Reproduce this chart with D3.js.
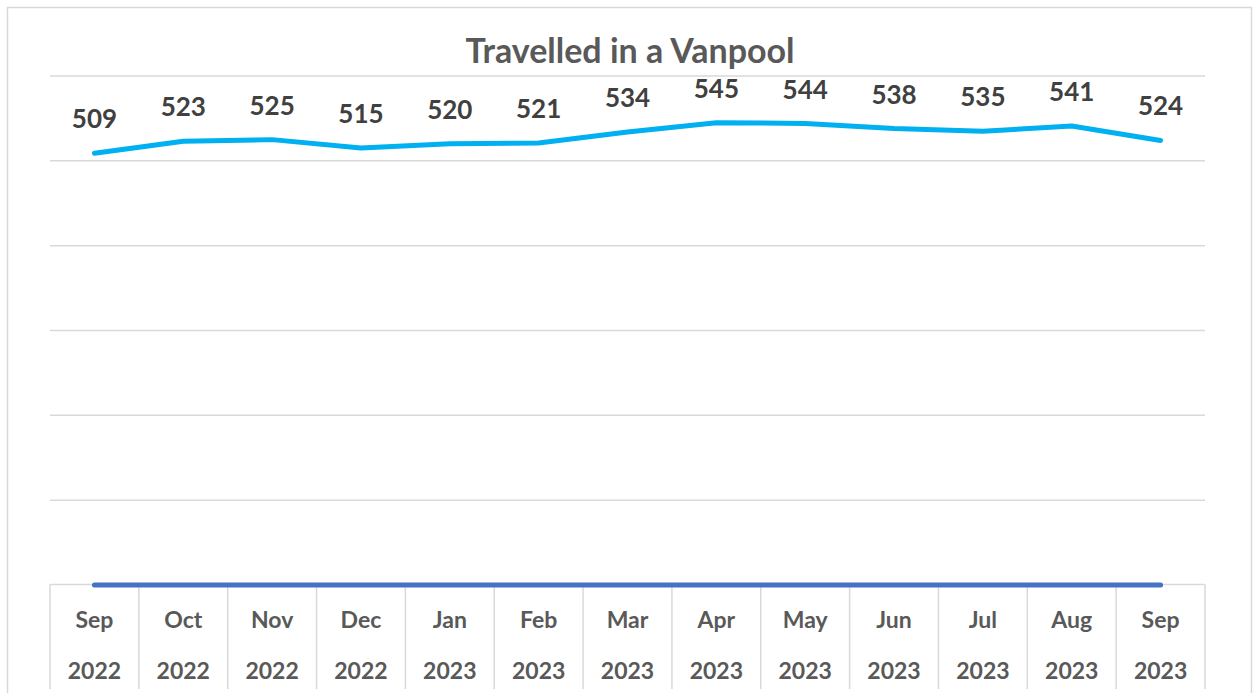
<!DOCTYPE html>
<html>
<head>
<meta charset="utf-8">
<script src="https://cdn.jsdelivr.net/npm/d3@7"></script>
<style>
  html, body { margin: 0; padding: 0; background: #fff; }
  svg { display: block; font-family: Lato, "Open Sans", sans-serif; }
</style>
</head>
<body>
<svg id="chart" width="1253" height="693"></svg>
<script>
// chart data
var months = ['Sep', 'Oct', 'Nov', 'Dec', 'Jan', 'Feb', 'Mar', 'Apr', 'May', 'Jun', 'Jul', 'Aug', 'Sep'];
var years = ['2022', '2022', '2022', '2022', '2023', '2023', '2023', '2023', '2023', '2023', '2023', '2023', '2023'];
var vanpool = [509, 523, 525, 515, 520, 521, 534, 545, 544, 538, 535, 541, 524];
var baseline = [0, 0, 0, 0, 0, 0, 0, 0, 0, 0, 0, 0, 0];
var yTicks = [0, 100, 200, 300, 400, 500, 600];

var svg = d3.select('#chart');
var plotLeft = 50, plotRight = 1205, plotTop = 76, plotBottom = 585;

// outer frame
svg.append('rect')
  .attr('x', 7.5).attr('y', 7.5)
  .attr('width', 1244).attr('height', 700)
  .attr('fill', '#fff')
  .attr('stroke', '#d9d9d9')
  .attr('stroke-width', 1.5);

var idx = d3.range(months.length);
var x = d3.scaleBand().domain(idx).range([plotLeft, plotRight]);
var y = d3.scaleLinear().domain([0, 600]).range([plotBottom, plotTop]);
var cx = function(i) { return x(i) + x.bandwidth() / 2; };

// gridlines
svg.append('g')
  .selectAll('line')
  .data(yTicks.slice(1))
  .enter().append('line')
    .attr('x1', plotLeft).attr('x2', plotRight)
    .attr('y1', function(d) { return y(d); })
    .attr('y2', function(d) { return y(d); })
    .attr('stroke', '#d9d9d9')
    .attr('stroke-width', 1.5);

// category table axis
var axis = svg.append('g');
axis.append('line')
  .attr('x1', plotLeft).attr('x2', plotRight)
  .attr('y1', y(0) - 0.5).attr('y2', y(0) - 0.5)
  .attr('stroke', '#d9d9d9').attr('stroke-width', 1.5);
axis.selectAll('line.div')
  .data(idx.concat([months.length]))
  .enter().append('line')
    .attr('class', 'div')
    .attr('x1', function(i) { return i < months.length ? x(i) : plotRight; })
    .attr('x2', function(i) { return i < months.length ? x(i) : plotRight; })
    .attr('y1', y(0) - 0.5).attr('y2', 689)
    .attr('stroke', '#d9d9d9').attr('stroke-width', 1.5);

var tick = axis.selectAll('g.tick')
  .data(idx)
  .enter().append('g')
    .attr('class', 'tick')
    .attr('transform', function(i) { return 'translate(' + cx(i) + ',0)'; });
tick.append('text')
  .attr('y', 628)
  .attr('text-anchor', 'middle')
  .attr('font-size', 23).attr('font-weight', 'bold')
  .attr('fill', '#595959')
  .text(function(i) { return months[i]; });
tick.append('text')
  .attr('y', 679)
  .attr('text-anchor', 'middle')
  .attr('font-size', 23).attr('font-weight', 'bold')
  .attr('fill', '#595959')
  .text(function(i) { return years[i]; });

// lines
var line = function(values) {
  return d3.line()
    .x(function(d, i) { return cx(i); })
    .y(function(d) { return y(d); })(values);
};
svg.append('path')
  .attr('d', line(baseline))
  .attr('fill', 'none')
  .attr('stroke', '#4472c4')
  .attr('stroke-width', 5)
  .attr('stroke-linecap', 'round');
svg.append('path')
  .attr('d', line(vanpool))
  .attr('fill', 'none')
  .attr('stroke', '#00b0f0')
  .attr('stroke-width', 5)
  .attr('stroke-linecap', 'round')
  .attr('stroke-linejoin', 'round');

// data labels
svg.append('g')
  .selectAll('text')
  .data(vanpool)
  .enter().append('text')
    .attr('x', function(d, i) { return cx(i); })
    .attr('y', function(d) { return y(d) - 25; })
    .attr('text-anchor', 'middle')
    .attr('font-size', 26).attr('font-weight', 'bold')
    .attr('fill', '#404040')
    .text(function(d) { return d; });

// title
svg.append('text')
  .attr('x', 630).attr('y', 63)
  .attr('text-anchor', 'middle')
  .attr('font-size', 34).attr('font-weight', 'bold')
  .attr('fill', '#595959')
  .text('Travelled in a Vanpool');
</script>
</body>
</html>
